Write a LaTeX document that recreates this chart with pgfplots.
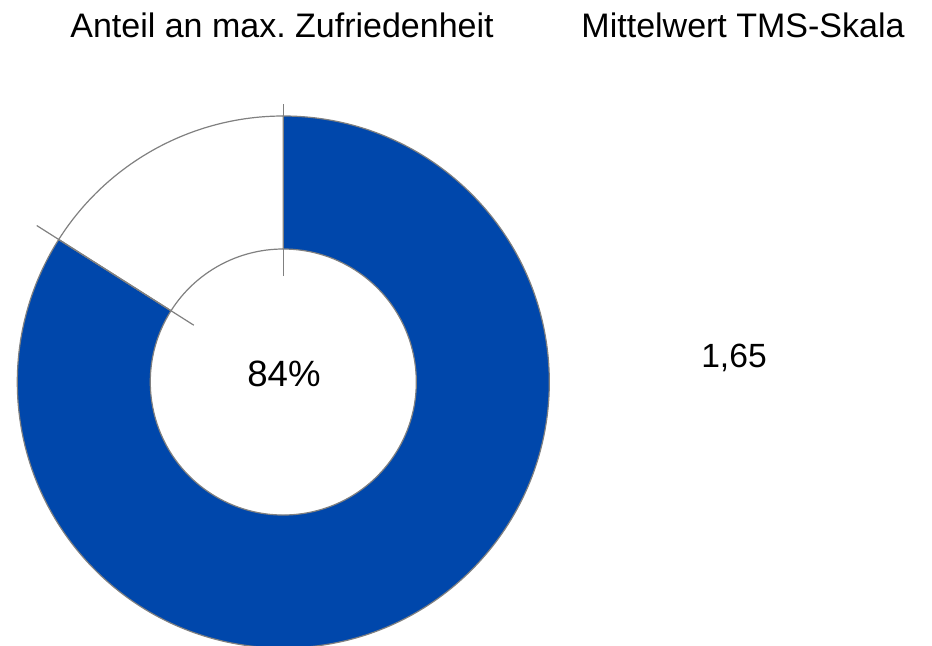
\documentclass[border=0pt]{standalone}
\usepackage{pgfplots}
\pgfplotsset{compat=1.18}
\usepackage{pgfplotstable}
\usetikzlibrary{calc}
\usepackage{fontspec}
\setmainfont{Liberation Sans}
\frenchspacing
\definecolor{donutblue}{RGB}{0,71,171}
\definecolor{edgegray}{RGB}{128,128,128}

% share of maximum satisfaction (percent) and the TMS mean
\pgfplotstableread{
part value
zufrieden 84
rest 16
}\donutdata
\pgfplotstablegetelem{0}{value}\of{\donutdata}\let\valA\pgfplotsretval
\def\tmsmean{1,65}

\begin{document}
\begin{tikzpicture}
\begin{axis}[name=a,
    width=466pt, height=322.5pt, scale only axis,
    xmin=0, xmax=932, ymin=0, ymax=645,
    hide axis, clip=false]
    % centre of the donut in axis units (1 unit = 0.5pt)
    \pgfmathsetmacro{\angEnd}{90-3.6*\valA}
    \pgfmathsetmacro{\angRest}{\angEnd+360}
    \def\cx{283.3}\def\cy{263}
    % blue part
    \fill[donutblue, draw=edgegray, line width=0.6pt]
      ($(axis cs:\cx,\cy)+(90:133pt)$) arc[start angle=90, end angle=\angEnd, radius=133pt]
      -- ($(axis cs:\cx,\cy)+(\angEnd:66.5pt)$) arc[start angle=\angEnd, end angle=90, radius=66.5pt] -- cycle;
    % remaining part
    \filldraw[fill=white, draw=edgegray, line width=0.6pt]
      ($(axis cs:\cx,\cy)+(90:133pt)$) arc[start angle=90, end angle=\angRest, radius=133pt]
      -- ($(axis cs:\cx,\cy)+(\angRest:66.5pt)$) arc[start angle=\angRest, end angle=90, radius=66.5pt] -- cycle;
    % boundary ticks
    \draw[edgegray, line width=0.6pt] ($(axis cs:\cx,\cy)+(90:53pt)$) -- ($(axis cs:\cx,\cy)+(90:139pt)$);
    \draw[edgegray, line width=0.6pt] ($(axis cs:\cx,\cy)+(\angRest:53pt)$) -- ($(axis cs:\cx,\cy)+(\angRest:146pt)$);
    % texts
    \node[anchor=base, inner sep=0pt, font=\fontsize{17}{19}\selectfont] at (axis cs:282,608) {Anteil an max. Zufriedenheit};
    \node[anchor=base, inner sep=0pt, font=\fontsize{17}{19}\selectfont] at (axis cs:743,608) {Mittelwert TMS-Skala};
    \node[anchor=base, inner sep=0pt, font=\fontsize{18.3}{20}\selectfont] at (axis cs:284,258.3) {\valA\%};
    \node[anchor=base, inner sep=0pt, font=\fontsize{16.8}{19}\selectfont] at (axis cs:734,278) {\tmsmean};
\end{axis}
\pgfresetboundingbox
\path (a.south west) rectangle (a.north east);
\end{tikzpicture}
\end{document}
